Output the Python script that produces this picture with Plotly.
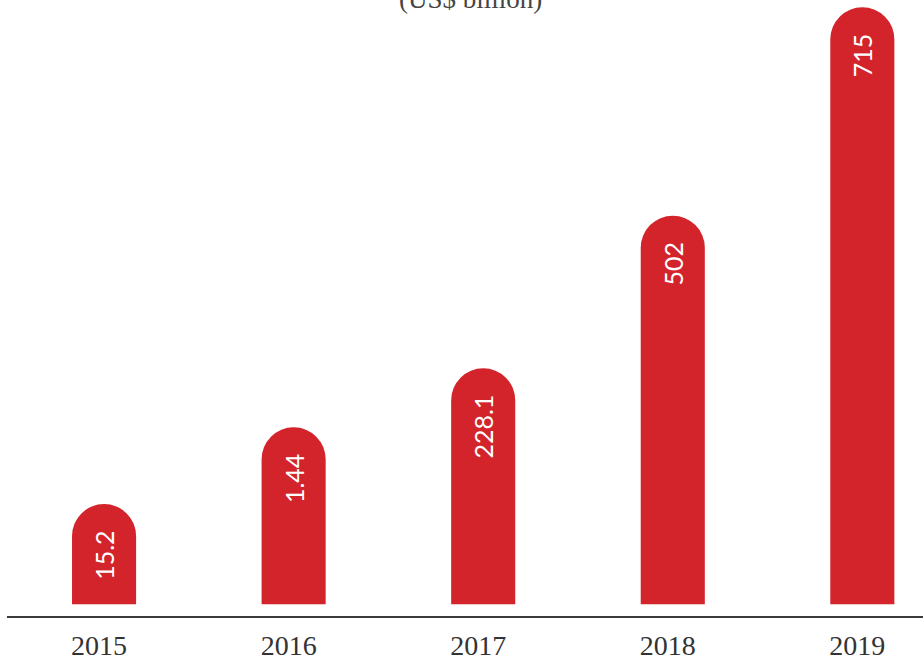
import plotly.graph_objects as go

years = ["2015", "2016", "2017", "2018", "2019"]
value_labels = ["15.2", "1.44", "228.1", "502", "715"]
# bar lengths as drawn in the infographic (not proportional to labels), scaled so 2019 = 715
bar_lengths = [120.1, 212.0, 282.7, 465.4, 715.0]
unit_title = "(US$ billion)"

bar_color = "#D3242B"
pad = "\u00a0\u00a0\u00a0"

fig = go.Figure()
fig.add_trace(go.Bar(
    x=years,
    y=bar_lengths,
    text=[v + pad for v in value_labels],
    textposition="inside",
    insidetextanchor="end",
    textangle=-90,
    textfont=dict(family="Lato", size=25, color="white"),
    marker=dict(color=bar_color, cornerradius="50%", line=dict(width=0)),
    width=0.338,
    hoverinfo="x+y",
))

fig.add_annotation(
    text=unit_title, xref="paper", yref="paper",
    x=(470 - 7) / 916, y=1, xanchor="center", yanchor="middle",
    yshift=1, showarrow=False,
    font=dict(family="Liberation Serif", size=27, color="#444444"),
)

fig.update_layout(
    width=923, height=662,
    margin=dict(l=7, r=0, t=0, b=46, autoexpand=False),
    paper_bgcolor="white", plot_bgcolor="white",
    showlegend=False,
    xaxis=dict(
        type="category",
        range=[-0.512, 4.32],
        automargin=False,
        showline=True, linecolor="#3a3a3a", linewidth=1.5,
        showgrid=False, zeroline=False,
        ticks="", ticklabelstandoff=4, ticklabelshift=-5,
        tickfont=dict(family="Liberation Serif", size=28, color="#333333"),
    ),
    yaxis=dict(
        range=[-14.0, 723.8],
        automargin=False,
        visible=False, showgrid=False, zeroline=False,
    ),
)

fig.write_html(
    "out.html",
    config={"displayModeBar": False},
    post_script="document.body.style.margin='0';document.body.style.overflow='hidden';",
)
